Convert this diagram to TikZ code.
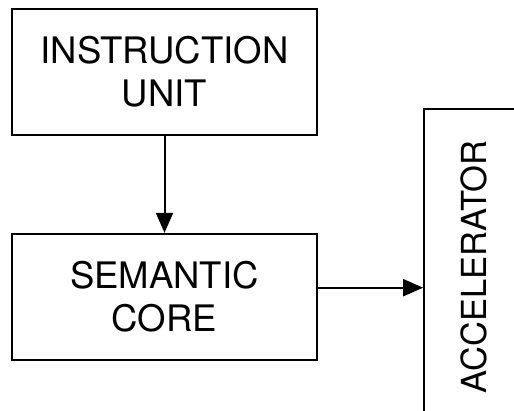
\documentclass[tikz,border=0pt]{standalone}
\usepackage{fontspec}
\setmainfont{TeX Gyre Heros}
\usetikzlibrary{positioning,arrows.meta}
\begin{document}
\begin{tikzpicture}[x=1pt,y=-1pt,
    block/.style={draw, line width=1.7pt, minimum width=305pt, minimum height=126pt,
        inner sep=0pt, align=center, font=\fontsize{36.5}{43}\selectfont},
    flow/.style={-{Triangle[length=20pt,width=17pt]}, line width=2pt}]
    \useasboundingbox (0,0) rectangle (514,411);

    % Blocks
    \node[block] (instr) at (164.5,72) {INSTRUCTION\\UNIT};
    \node[block, below=97pt of instr] (core) {SEMANTIC\\CORE};
    \node[block, rotate=90, minimum width=316pt, minimum height=100pt,
        font=\fontsize{34.5}{40}\selectfont] (accel) at (474,267) {ACCELERATOR};

    % Connectors
    \coordinate (coreout) at ([yshift=9pt]core.east);
    \draw[flow] (instr) -- (core);
    \draw[flow] (coreout) -- (coreout -| accel.north);
\end{tikzpicture}
\end{document}
